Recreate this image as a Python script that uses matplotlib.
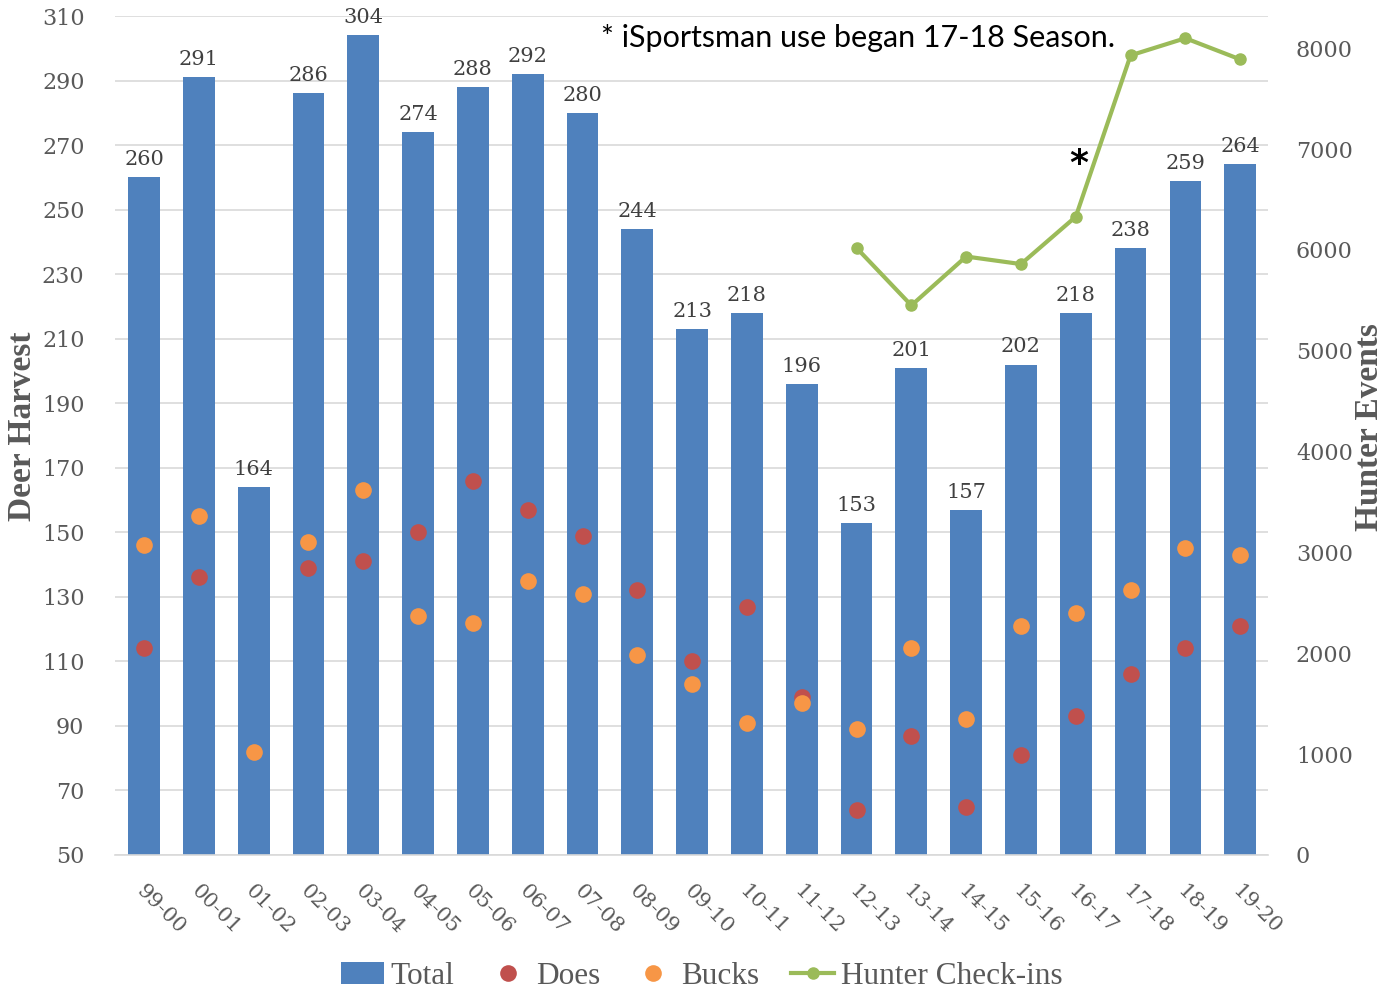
import numpy as np
import matplotlib
matplotlib.use('Agg')
import matplotlib.pyplot as plt
from matplotlib.lines import Line2D
from matplotlib.patches import Patch
import matplotlib.transforms as mtransforms

# chart data
seasons = ['99-00', '00-01', '01-02', '02-03', '03-04', '04-05', '05-06', '06-07',
           '07-08', '08-09', '09-10', '10-11', '11-12', '12-13', '13-14', '14-15',
           '15-16', '16-17', '17-18', '18-19', '19-20']
total = [260, 291, 164, 286, 304, 274, 288, 292, 280, 244, 213, 218, 196, 153,
         201, 157, 202, 218, 238, 259, 264]
does = [114, 136, np.nan, 139, 141, 150, 166, 157, 149, 132, 110, 127, 99, 64,
        87, 65, 81, 93, 106, 114, 121]
bucks = [146, 155, 82, 147, 163, 124, 122, 135, 131, 112, 103, 91, 97, 89,
         114, 92, 121, 125, 132, 145, 143]
checkins = [np.nan] * 13 + [6020, 5450, 5935, 5860, 6330, 7930, 8100, 7890]

c_bar = '#4F81BD'
c_does = '#C0504D'
c_bucks = '#F79646'
c_line = '#9BBB59'
c_text = '#595959'
serif = 'Liberation Serif'
num_font = 'DejaVu Serif'

fig = plt.figure(figsize=(13.89, 9.9), dpi=100)
ax = fig.add_axes([0.0828, 0.1364, 0.8302, 0.8474])
ax2 = ax.twinx()

x = np.arange(len(seasons))
ax.bar(x, total, width=0.58, bottom=0, color=c_bar, zorder=2)
for xi, v in zip(x, total):
    ax.text(xi, v + 2.5, str(v), ha='center', va='bottom', fontsize=15,
            family=num_font, color='#404040', zorder=5)
ax.plot(x, does, linestyle='None', marker='o', markersize=12, color=c_does,
        markeredgewidth=0, zorder=3)
ax.plot(x, bucks, linestyle='None', marker='o', markersize=12, color=c_bucks,
        markeredgewidth=0, zorder=4)

ax.set_ylim(50, 310)
ax.set_xlim(-0.53, 20.51)
ax.set_yticks(np.arange(50, 311, 20))
ax.grid(axis='y', color='#D9D9D9', linewidth=1.2, zorder=0)
ax.set_axisbelow(True)
for s in ['top', 'left', 'right']:
    ax.spines[s].set_visible(False)
ax.spines['bottom'].set_color('#D9D9D9')
ax.spines['bottom'].set_linewidth(1.2)
ax.tick_params(axis='y', length=0, pad=22, labelsize=16, labelcolor=c_text)
ax.tick_params(axis='x', length=0)
ax.set_xticks(x)
ax.set_xticklabels(seasons, rotation=-45, ha='left', va='top',
                   rotation_mode='anchor', fontsize=15, color=c_text, family=num_font)
offset = mtransforms.ScaledTranslation(2 / 100, -22 / 100, fig.dpi_scale_trans)
for lab in ax.get_xticklabels():
    lab.set_transform(lab.get_transform() + offset)
for lab in ax.get_yticklabels():
    lab.set_family(num_font)

ax2.plot(x, checkins, color=c_line, linewidth=3, marker='o', markersize=8, zorder=6)
ax2.set_ylim(0, 8320)
ax2.set_yticks(np.arange(0, 8001, 1000))
for s in ['top', 'left', 'right', 'bottom']:
    ax2.spines[s].set_visible(False)
ax2.tick_params(axis='y', length=0, pad=20, labelsize=16, labelcolor=c_text)
for lab in ax2.get_yticklabels():
    lab.set_family(num_font)

# axis titles
fig.text(23 / 1389, 0.569, 'Deer Harvest', rotation=90, ha='center', va='center',
         fontsize=24, fontweight='bold', color=c_text, family=serif)
fig.text(1369 / 1389, 0.569, 'Hunter Events', rotation=90, ha='center', va='center',
         fontsize=24, fontweight='bold', color=c_text, family=serif)

fig.text(0.433, 0.962, '* iSportsman use began 17-18 Season.', fontsize=22,
         family='Lato', color='black', ha='left', va='center')
ax2.text(17.05, 6850, '*', fontsize=26, fontweight='bold', color='black',
         ha='center', va='center', family='DejaVu Sans')

handles = [Patch(facecolor=c_bar, edgecolor='none'),
           Line2D([], [], linestyle='None', marker='o', markersize=12, color=c_does, markeredgewidth=0),
           Line2D([], [], linestyle='None', marker='o', markersize=12, color=c_bucks, markeredgewidth=0),
           Line2D([], [], color=c_line, linewidth=3, marker='o', markersize=8)]
labels = ['Total', 'Does', 'Bucks', 'Hunter Check-ins']
leg = fig.legend(handles, labels, loc='center', bbox_to_anchor=(0.505, 0.014), ncol=4,
                 frameon=False, handlelength=1.4, columnspacing=1.0,
                 handletextpad=0.2, prop={'family': serif, 'size': 22.5})
for t in leg.get_texts():
    t.set_color(c_text)

fig.savefig('out.png', dpi=100)
